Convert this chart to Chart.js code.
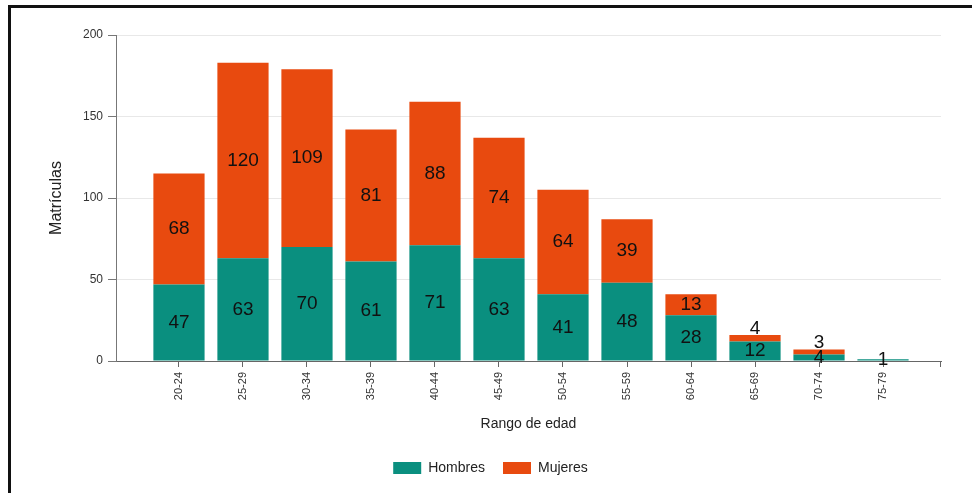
<!DOCTYPE html>
<html>
<head>
<meta charset="utf-8">
<script src="https://cdn.jsdelivr.net/npm/chart.js@4.4.1/dist/chart.umd.min.js"></script>
<style>
    html, body { margin: 0; padding: 0; background: #fff; }
    #wrap { position: relative; width: 972px; height: 493px; overflow: hidden; }
    #marco {
        position: absolute; left: 8px; top: 5px; right: -10px; bottom: -10px;
        border-top: 3px solid #111; border-left: 3px solid #111;
        pointer-events: none;
    }
    canvas { position: absolute; left: 0; top: 0; }
</style>
</head>
<body>
<div id="wrap">
    <canvas id="grafico" width="972" height="493"></canvas>
    <div id="marco"></div>
</div>
<script>
// datos
const categorias = ['20-24', '25-29', '30-34', '35-39', '40-44', '45-49', '50-54', '55-59', '60-64', '65-69', '70-74', '75-79'];
const hombres = [47, 63, 70, 61, 71, 63, 41, 48, 28, 12, 4, 1];
const mujeres = [68, 120, 109, 81, 88, 74, 64, 39, 13, 4, 3, 0];
const ticksY = [0, 50, 100, 150, 200];

const fuente = "'Liberation Sans', Arial, sans-serif";

// etiquetas con el valor dentro de cada segmento
const etiquetas = {
    id: 'etiquetas',
    afterDatasetsDraw(chart) {
        const ctx = chart.ctx;
        ctx.save();
        ctx.font = '19px ' + fuente;
        ctx.fillStyle = '#111';
        ctx.textAlign = 'center';
        chart.data.datasets.forEach((ds, di) => {
            const meta = chart.getDatasetMeta(di);
            meta.data.forEach((bar, i) => {
                const v = ds.data[i].y;
                if (!v) return;
                const alto = bar.base - bar.y;
                if (di === 1 && alto < 15) {
                    // segmento muy bajo: el número va encima
                    ctx.textBaseline = 'bottom';
                    ctx.fillText(v, bar.x, bar.y + 3);
                } else {
                    ctx.textBaseline = 'middle';
                    ctx.fillText(v, bar.x, (bar.y + bar.base) / 2);
                }
            });
        });
        // marca final del eje x
        const a = chart.chartArea;
        ctx.strokeStyle = '#666';
        ctx.lineWidth = 1;
        ctx.beginPath();
        ctx.moveTo(a.right - 0.5, a.bottom);
        ctx.lineTo(a.right - 0.5, a.bottom + 6);
        ctx.stroke();
        ctx.restore();
    }
};

new Chart(document.getElementById('grafico'), {
    type: 'bar',
    data: {
        datasets: [
            {
                label: 'Hombres',
                data: hombres.map((v, i) => ({ x: i, y: v })),
                backgroundColor: '#0a8f7f',
                barPercentage: 0.8,
                categoryPercentage: 1
            },
            {
                label: 'Mujeres',
                data: mujeres.map((v, i) => ({ x: i, y: v })),
                backgroundColor: '#e84a0f',
                barPercentage: 0.8,
                categoryPercentage: 1
            }
        ]
    },
    options: {
        responsive: false,
        animation: false,
        layout: { padding: { top: 35, right: 31, left: 40, bottom: 8 } },
        plugins: {
            legend: {
                position: 'bottom',
                labels: {
                    boxWidth: 28,
                    boxHeight: 12,
                    padding: 18,
                    color: '#222',
                    font: { family: fuente, size: 14 }
                }
            },
            tooltip: { enabled: false }
        },
        scales: {
            x: {
                type: 'linear',
                stacked: true,
                offset: false,
                min: -0.984,
                max: 11.906,
                afterBuildTicks(s) { s.ticks = categorias.map((c, i) => ({ value: i })); },
                afterFit(s) { s.height = 82; },
                ticks: {
                    callback: (v) => categorias[v],
                    minRotation: 90,
                    maxRotation: 90,
                    padding: 5,
                    color: '#333',
                    font: { family: fuente, size: 11 }
                },
                grid: { offset: false, drawOnChartArea: false, tickLength: 6, color: '#666' },
                border: { color: '#666' },
                title: {
                    display: true,
                    text: 'Rango de edad',
                    color: '#222',
                    font: { family: fuente, size: 14 },
                    padding: { top: 0, bottom: 10 }
                }
            },
            y: {
                stacked: true,
                min: 0,
                max: 200,
                afterBuildTicks(s) { s.ticks = ticksY.map(v => ({ value: v })); },
                afterFit(s) { s.width = 76; },
                ticks: {
                    padding: 5,
                    color: '#333',
                    font: { family: fuente, size: 12 }
                },
                grid: { color: '#e8e8e8', tickColor: '#777', tickLength: 8 },
                border: { color: '#777' },
                title: {
                    display: true,
                    text: 'Matrículas',
                    color: '#222',
                    font: { family: fuente, size: 16 },
                    padding: { top: 7, bottom: 0 }
                }
            }
        }
    },
    plugins: [etiquetas]
});
</script>
</body>
</html>
